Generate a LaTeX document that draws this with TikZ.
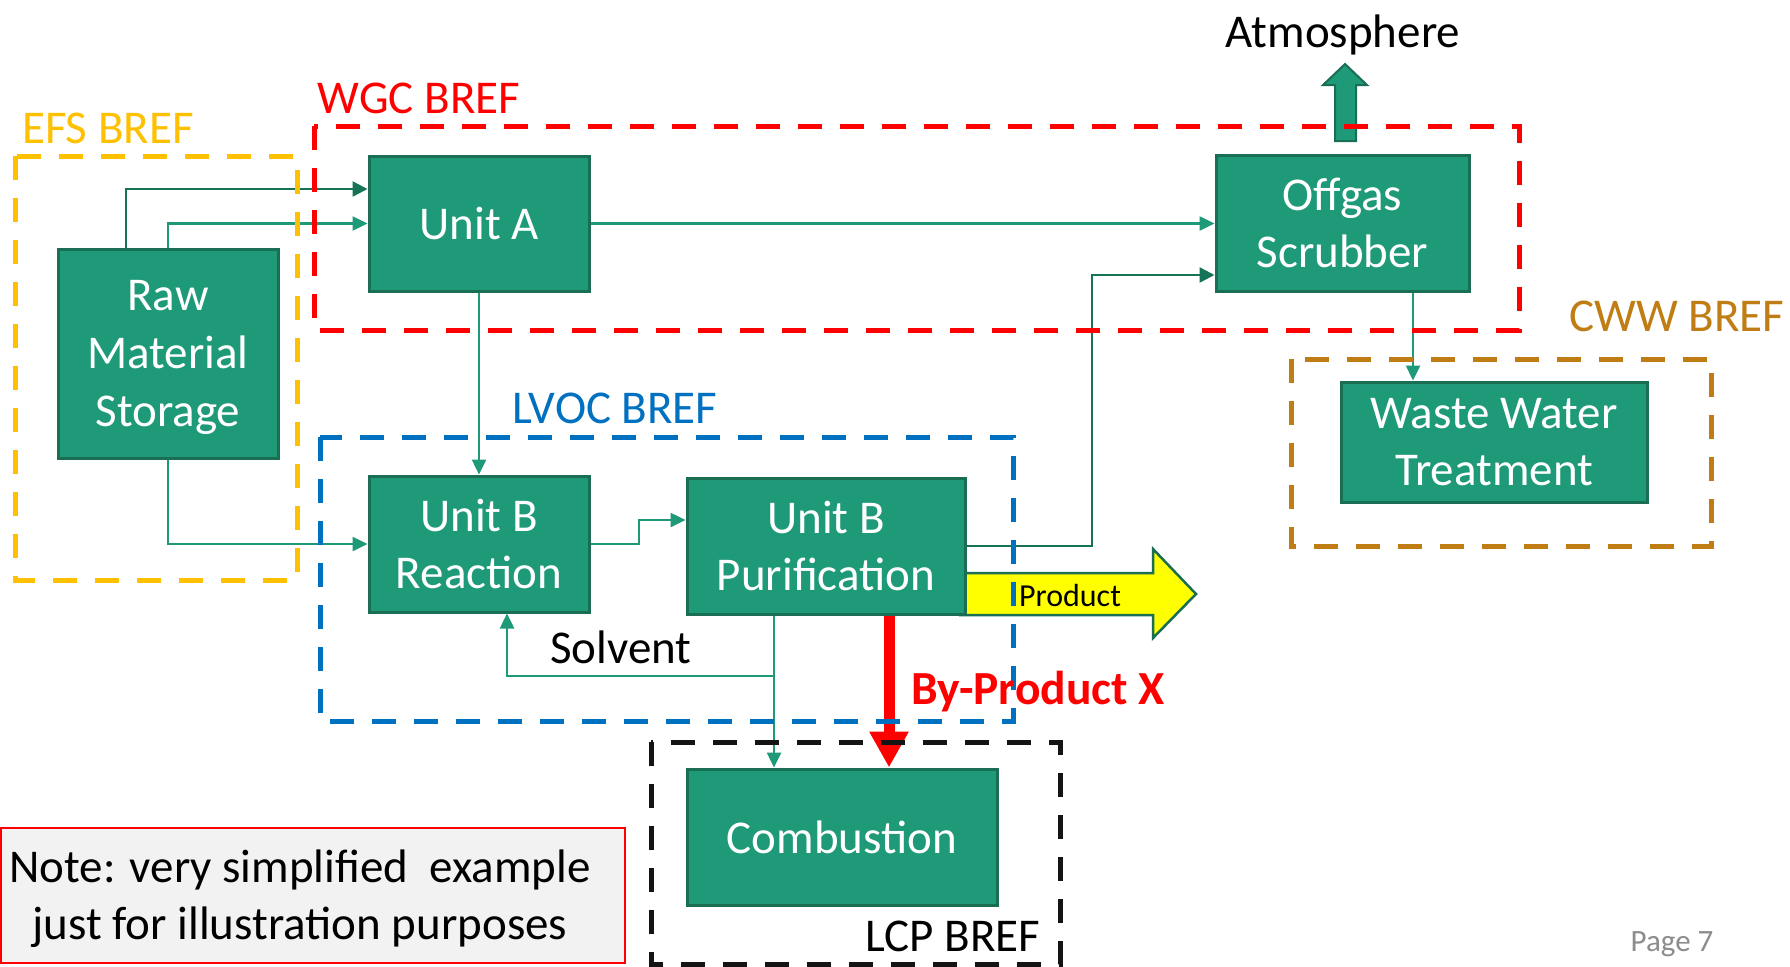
\documentclass[tikz,border=0pt]{standalone}
\usepackage{fontspec}
\setmainfont{Carlito}
\usetikzlibrary{arrows.meta}
\definecolor{boxgreen}{RGB}{31,154,121}
\definecolor{boxedge}{RGB}{26,110,84}
\definecolor{lineg}{RGB}{31,154,121}
\definecolor{lined}{RGB}{22,115,88}
\definecolor{efs}{RGB}{255,192,0}
\definecolor{wgc}{RGB}{255,0,0}
\definecolor{lvoc}{RGB}{0,112,192}
\definecolor{cww}{RGB}{191,125,20}
\definecolor{lcp}{RGB}{20,20,20}
\definecolor{notefill}{RGB}{242,242,242}
\definecolor{pagegray}{RGB}{140,140,140}
\definecolor{prodyellow}{RGB}{255,255,0}
\begin{document}
\begin{tikzpicture}[x=1pt,y=-1pt,
 box/.style={draw=boxedge, fill=boxgreen, line width=3pt, text=white, align=center, inner sep=0pt, font=\fontsize{47}{57}\selectfont},
 conn/.style={draw=lineg, line width=2.5pt, -{Triangle[length=15pt,width=14pt]}},
 connd/.style={draw=lined, line width=2.5pt, -{Triangle[length=15pt,width=15pt]}},
 bref/.style={line width=5pt, dash pattern=on 24pt off 18pt},
 lbl/.style={font=\fontsize{47}{57}\selectfont, inner sep=0pt},
]
\useasboundingbox (0,0) rectangle (1790,966);
\fill[white] (0,0) rectangle (1790,966);

% process nodes
\node[box, minimum width=220pt, minimum height=209pt, text depth=-4pt, font=\fontsize{47}{58}\selectfont] (raw) at (168,353.5) {Raw\\Material\\Storage};
\node[box, minimum width=220pt, minimum height=135pt] (uA) at (479,223.5) {Unit A};
\node[box, minimum width=253pt, minimum height=136pt] (off) at (1342.5,223) {Offgas\\Scrubber};
\node[box, minimum width=306pt, minimum height=120pt] (ww) at (1494,442) {Waste Water\\Treatment};
\node[box, minimum width=220pt, minimum height=136pt] (rx) at (479,544) {Unit B\\Reaction};
\node[box, minimum width=310pt, minimum height=136pt] (comb) at (842,837) {Combustion};

% product block arrow (under purification box)
\draw[draw=boxedge, fill=prodyellow, line width=2.5pt]
  (960,573) -- (1153,573) -- (1153,549) -- (1196,594) -- (1153,638) -- (1153,615) -- (960,615) -- cycle;
\node[box, minimum width=278pt, minimum height=136pt] (pur) at (826,546) {Unit B\\Purification};
\node[font=\fontsize{32}{38}\selectfont, inner sep=0pt] (prod) at (1070,596) {Product};

% atmosphere block arrow
\draw[draw=boxedge, fill=boxgreen, line width=2pt]
  (1335,141) -- (1335,85) -- (1323,85) -- (1345,64) -- (1367,85) -- (1356,85) -- (1356,141) -- cycle;

% helper coordinates
\coordinate (xa) at (126,189);
\coordinate (k1) at (639,520);
\coordinate (k2) at (1092,275);
\coordinate (xo) at (1413,0);
\coordinate (xg) at (774,0);
\coordinate (k3) at (774,676);
\coordinate (k4) at (507,676);
\coordinate (xr) at (889,0);

% connectors
\draw[connd] (raw.north -| xa) |- (uA.west |- xa);
\draw[conn] (raw.north) |- (uA.west);
\draw[conn] (raw.south) |- (rx.west);
\draw[conn] (uA.south) -- (rx.north);
\draw[conn] (rx.east) -| (k1) -- (pur.west |- k1);
\draw[conn] (uA.east) -- (off.west |- uA.east);
\draw[connd] (pur.east) -| (k2) -- (off.west |- k2);
\draw[conn] (off.south -| xo) -- (ww.north -| xo);
\draw[conn] (pur.south -| xg) -- (comb.north -| xg);
\draw[conn] (k3) -- (k4) -- (rx.south -| k4);
\draw[wgc, line width=11pt, -{Triangle[length=36pt,width=37pt]}] (pur.south -| xr) -- (comb.north -| xr);

% BREF boundaries
\draw[bref, efs] (15,156) rectangle (297,580);
\draw[bref, wgc] (314,126) rectangle (1519,330);
\draw[bref, lvoc] (320,437) rectangle (1013,721);
\draw[bref, cww] (1291,359) rectangle (1711,546);
\draw[bref, lcp] (651,742) rectangle (1060,964);

% labels
\node[lbl, text=efs] (lefs) at (108,128) {EFS BREF};
\node[lbl, text=wgc] (lwgc) at (419,98) {WGC BREF};
\node[lbl, text=lvoc] (llvoc) at (615,408) {LVOC BREF};
\node[lbl, text=cww] (lcww) at (1677,316) {CWW BREF};
\node[lbl] (latm) at (1343,35) {Atmosphere};
\node[lbl] (lsolv) at (621,647) {Solvent};
\node[lbl, text=wgc, font=\fontsize{47.5}{56}\selectfont\bfseries] (lbyp) at (1038,692) {By-Product X};
\node[lbl] (llcp) at (953,936) {LCP BREF};

% note
\draw[draw=wgc, fill=notefill, line width=1.5pt] (1,828) rectangle (625,963);
\node[lbl, align=center] (note) at (300,899) {Note: very simplified\ \ example\\just for illustration purposes};

\node[font=\fontsize{31}{37}\selectfont, text=pagegray, inner sep=0pt] (page) at (1672,944) {Page 7};
\end{tikzpicture}
\end{document}
